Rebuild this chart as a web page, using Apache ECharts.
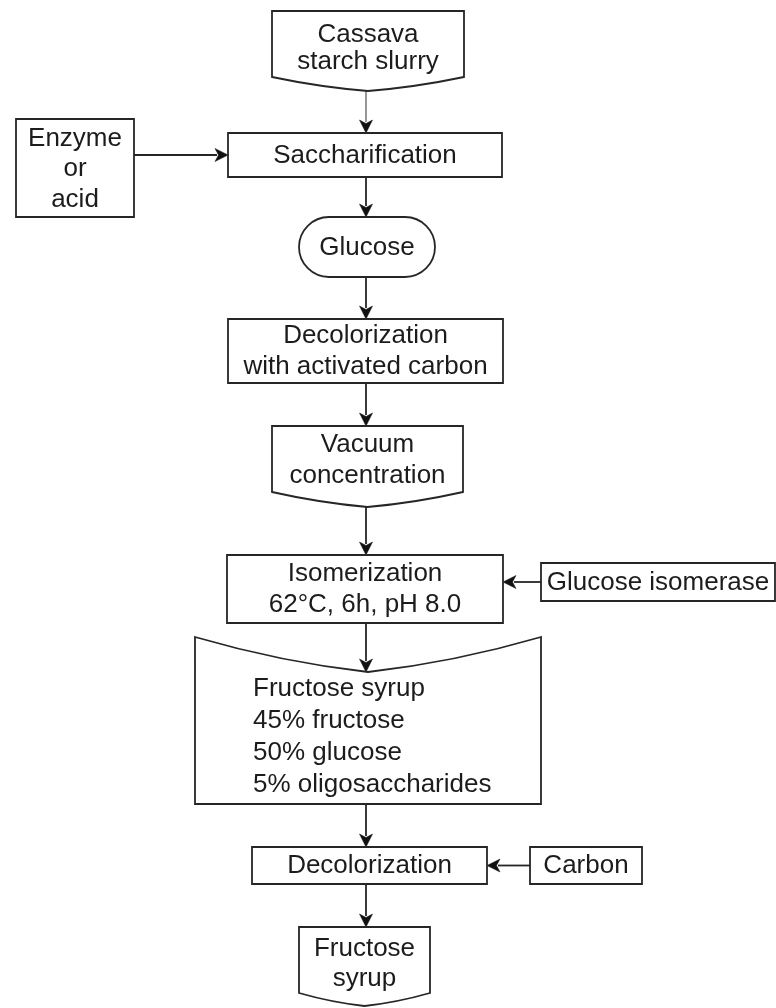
<!DOCTYPE html>
<html><head><meta charset="utf-8">
<script src="https://cdn.jsdelivr.net/npm/echarts@6/dist/echarts.min.js"></script>
<style>html,body{margin:0;padding:0;background:#fff}#c{width:776px;height:1008px}</style>
</head><body><div id="c"></div>
<script>
// ---- content ----
const nodeLabels = [
  'Cassava\nstarch slurry',
  'Saccharification',
  'Enzyme\nor\nacid',
  'Glucose',
  'Decolorization\nwith activated carbon',
  'Vacuum\nconcentration',
  'Isomerization\n62°C, 6h, pH 8.0',
  'Glucose isomerase',
  'Fructose syrup\n45% fructose\n50% glucose\n5% oligosaccharides',
  'Decolorization',
  'Carbon',
  'Fructose\nsyrup'
];
const nodeShapes = ['document','rect','rect','terminal','rect','document','rect','rect','card','rect','rect','document'];
const edgeFrom = [0, 2, 1, 3, 4, 5, 7, 6, 8, 10, 9];
const edgeTo   = [1, 1, 3, 4, 5, 6, 6, 8, 9, 9, 11];

// ---- layout (data-space units of the hidden axes) ----
const nodeBoxes = [
  [272, 11, 464, 77],
  [228, 133, 502, 177],
  [16, 119, 134, 217],
  [299, 217, 435, 277],
  [228, 319, 503, 383],
  [272, 426, 463, 492],
  [227, 555, 503, 623],
  [541, 563, 775, 601],
  [195, 637, 541, 804],
  [252, 847, 487, 884],
  [530, 847, 642, 884],
  [299, 927, 430, 993]
];
const nodeDips = [14, 0, 0, 0, 0, 15, 0, 0, 35, 0, 0, 13];
const textCenters = [48, 156, 169, 248, 351, 460, 589, 583, 737, 866, 866, 964];
const textLineHeights = [27, 30, 30.5, 30, 31, 31, 31, 30, 32, 30, 30, 30];
const textLeft = [null, null, null, null, null, null, null, null, 253, null, null, null];
const spineX = 366;

const STROKE = '#262626';
const FONT = '26px "Liberation Sans", Arial, sans-serif';

function nodeTop(i) { return nodeBoxes[i][1] + (nodeShapes[i] === 'card' ? nodeDips[i] : 0); }
function nodeBottom(i) { return nodeBoxes[i][3] + (nodeShapes[i] === 'document' ? nodeDips[i] : 0); }

const chart = echarts.init(document.getElementById('c'), null, {renderer: 'canvas'});

function renderNode(params, api) {
  const i = params.dataIndex;
  const b = nodeBoxes[i];
  const p0 = api.coord([b[0], b[1]]);
  const p1 = api.coord([b[2], b[3]]);
  const x0 = p0[0], y0 = p0[1], x1 = p1[0], y1 = p1[1];
  const xm = (x0 + x1) / 2;
  const dip = api.size([0, nodeDips[i]])[1];
  const style = {fill: '#fff', stroke: STROKE, lineWidth: 1.8};
  const k = 0.72;
  let shapeEl;
  if (nodeShapes[i] === 'rect') {
    shapeEl = {type: 'rect', shape: {x: x0, y: y0, width: x1 - x0, height: y1 - y0}, style};
  } else if (nodeShapes[i] === 'terminal') {
    shapeEl = {type: 'rect', shape: {x: x0, y: y0, width: x1 - x0, height: y1 - y0, r: (y1 - y0) / 2}, style};
  } else if (nodeShapes[i] === 'document') {
    const ym = y1 + dip, yc = y1 + dip * k;
    const d = `M${x0} ${y0} L${x1} ${y0} L${x1} ${y1} Q${(x1 + xm) / 2} ${yc} ${xm} ${ym} Q${(x0 + xm) / 2} ${yc} ${x0} ${y1} Z`;
    shapeEl = {type: 'path', shape: {pathData: d}, style};
  } else {
    const ym = y0 + dip, yc = y0 + dip * k;
    const d = `M${x0} ${y0} Q${(x0 + xm) / 2} ${yc} ${xm} ${ym} Q${(x1 + xm) / 2} ${yc} ${x1} ${y0} L${x1} ${y1} L${x0} ${y1} Z`;
    shapeEl = {type: 'path', shape: {pathData: d}, style};
  }
  const left = textLeft[i];
  const tc = api.coord([left != null ? left : (b[0] + b[2]) / 2, textCenters[i]]);
  const textEl = {
    type: 'text',
    style: {
      text: nodeLabels[i], x: tc[0], y: tc[1], fill: '#1c1c1c', font: FONT,
      align: left != null ? 'left' : 'center', verticalAlign: 'middle',
      lineHeight: api.size([0, textLineHeights[i]])[1]
    }
  };
  return {type: 'group', children: [shapeEl, textEl]};
}

function renderEdge(params, api) {
  const k = params.dataIndex;
  const s = edgeFrom[k], t = edgeTo[k];
  const bs = nodeBoxes[s], bt = nodeBoxes[t];
  let a, z;
  const horizontal = bs[2] < bt[0] || bs[0] > bt[2];
  if (!horizontal) {
    a = api.coord([spineX, nodeBottom(s)]);
    z = api.coord([spineX, nodeTop(t)]);
  } else {
    const hs = bs[3] - bs[1], ht = bt[3] - bt[1];
    const yc = hs <= ht ? (bs[1] + bs[3]) / 2 : (bt[1] + bt[3]) / 2;
    if (bs[2] < bt[0]) { a = api.coord([bs[2], yc]); z = api.coord([bt[0], yc]); }
    else { a = api.coord([bs[0], yc]); z = api.coord([bt[2], yc]); }
  }
  const dx = z[0] - a[0], dy = z[1] - a[1];
  const len = Math.sqrt(dx * dx + dy * dy);
  const ux = dx / len, uy = dy / len;
  const L = 13, W = 6.5;
  const bx = z[0] - ux * L, by = z[1] - uy * L;
  const stemColor = k === 0 ? '#8c8c8c' : STROKE;
  return {type: 'group', children: [
    {type: 'line', shape: {x1: a[0], y1: a[1], x2: bx + ux * 2, y2: by + uy * 2}, style: {stroke: stemColor, lineWidth: 1.8}},
    {type: 'polygon', shape: {points: [[z[0], z[1]], [bx - uy * W, by + ux * W], [bx + ux * 3.5, by + uy * 3.5], [bx + uy * W, by - ux * W]]}, style: {fill: '#111', stroke: '#111', lineWidth: 0.5}}
  ]};
}

chart.setOption({
  animation: false,
  backgroundColor: '#fff',
  grid: {left: 0, right: 0, top: 0, bottom: 0},
  xAxis: {type: 'value', min: 0, max: 776, show: false},
  yAxis: {type: 'value', min: 0, max: 1008, inverse: true, show: false},
  series: [
    {type: 'custom', coordinateSystem: 'cartesian2d', renderItem: renderEdge, z: 1,
     data: edgeFrom.map((s, k) => [nodeBoxes[s][0], nodeBoxes[s][1], k]), encode: {x: 0, y: 1}},
    {type: 'custom', coordinateSystem: 'cartesian2d', renderItem: renderNode, z: 2,
     data: nodeBoxes.map((b, i) => [(b[0] + b[2]) / 2, (b[1] + b[3]) / 2, i]), encode: {x: 0, y: 1}}
  ]
});
</script></body></html>
